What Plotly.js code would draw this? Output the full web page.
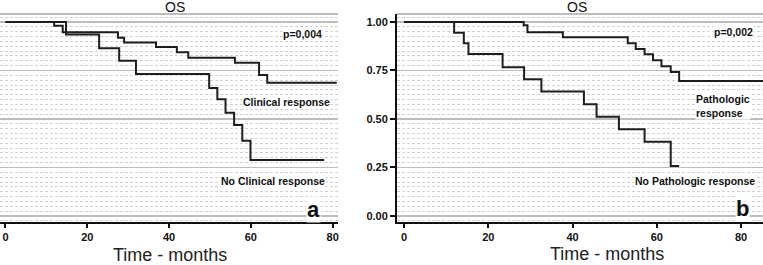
<!DOCTYPE html>
<html>
<head>
<meta charset="utf-8">
<script src="https://cdn.plot.ly/plotly-3.0.1.min.js"></script>
<style>html,body{margin:0;padding:0;background:#fff;}#chart{width:763px;height:265px;}</style>
</head>
<body>
<div id="chart"></div>
<script>
// Panel a: clinical response
const monthsAClin = [0, 11.9, 14, 27.5, 29, 36.8, 41.9, 44.7, 56.1, 62, 64, 81];
const survAClin = [1, 0.981, 0.947, 0.919, 0.894, 0.871, 0.844, 0.816, 0.79, 0.727, 0.687, 0.687];
const monthsANoClin = [0, 14.8, 22.9, 27.8, 31.9, 49.8, 51.8, 53.8, 55.9, 57.9, 59.9, 77.9];
const survANoClin = [1, 0.935, 0.864, 0.80, 0.732, 0.659, 0.602, 0.532, 0.469, 0.388, 0.289, 0.289];
// Panel b: pathologic response
const monthsBPath = [0, 28.4, 29.3, 37.7, 53.1, 55, 57.1, 59.1, 61.1, 63.3, 65.3, 86];
const survBPath = [1, 0.983, 0.947, 0.921, 0.89, 0.861, 0.833, 0.803, 0.772, 0.742, 0.696, 0.696];
const monthsBNoPath = [0, 11.9, 14.2, 15.3, 23.4, 28.5, 32.6, 42.7, 45.7, 51, 57.1, 63.3, 65.3];
const survBNoPath = [1, 0.945, 0.89, 0.835, 0.767, 0.705, 0.641, 0.576, 0.512, 0.447, 0.383, 0.258, 0.258];

const xTicks = [0, 20, 40, 60, 80];
const yTicks = [0, 0.25, 0.5, 0.75, 1.0];
const yTickText = ['0.00', '0.25', '0.50', '0.75', '1.00'];

const lineStyle = {color: '#1e1e1e', width: 2, shape: 'hv'};
const traces = [
  {x: monthsAClin, y: survAClin, xaxis: 'x', yaxis: 'y', mode: 'lines', line: lineStyle, hoverinfo: 'skip'},
  {x: monthsANoClin, y: survANoClin, xaxis: 'x', yaxis: 'y', mode: 'lines', line: lineStyle, hoverinfo: 'skip'},
  {x: monthsBPath, y: survBPath, xaxis: 'x2', yaxis: 'y2', mode: 'lines', line: lineStyle, hoverinfo: 'skip'},
  {x: monthsBNoPath, y: survBNoPath, xaxis: 'x2', yaxis: 'y2', mode: 'lines', line: lineStyle, hoverinfo: 'skip'}
];

const boldFam = 'Liberation Sans, Arial';
const tickFont = {family: boldFam, size: 11, color: '#111', weight: 'bold'};
const xBase = {
  tickvals: xTicks, ticks: 'outside', ticklen: 4, tickwidth: 2, tickcolor: '#111',
  showline: true, linecolor: '#111', linewidth: 2, showgrid: false, zeroline: false,
  tickfont: tickFont, fixedrange: true
};
const yBase = {
  range: [-0.031, 1.041], tickvals: yTicks, ticktext: yTickText,
  showgrid: true, gridcolor: '#bdbdbd', gridwidth: 1.5, zeroline: false,
  minor: {dtick: 0.025, tick0: 0, showgrid: true, gridcolor: '#d2d2d2', gridwidth: 1, griddash: '3px,2px'},
  tickfont: tickFont, fixedrange: true
};

const W = 763;
const annFont = {family: boldFam, size: 10.5, color: '#111'};
function ann(text, x, y, size, extra) {
  return Object.assign({
    text: text, xref: 'paper', yref: 'paper', x: x / W, y: (222 - y) / 208,
    xanchor: 'center', yanchor: 'middle', showarrow: false,
    font: Object.assign({}, annFont, {size: size}), bgcolor: '#ffffff', borderpad: 0
  }, extra || {});
}
const plainFont = 'Liberation Sans, Arial';
const annotations = [
  ann('<b>p=0,004</b>', 302, 34, 10.5),
  ann('<b>Clinical response</b>', 286, 102, 10.5),
  ann('<b>No Clinical response</b>', 273, 181, 10.5),
  ann('<b>a</b>', 313, 209, 22, {font: {family: plainFont, size: 22, color: '#111'}}),
  ann('<b>p=0,002</b>', 733, 32, 10.5),
  ann('<b>Pathologic<br>response</b>', 695, 106, 10.5, {xanchor: 'left', align: 'left'}),
  ann('<b>No Pathologic response</b>', 695, 181, 10.5),
  ann('<b>b</b>', 742, 208, 22, {font: {family: plainFont, size: 22, color: '#111'}}),
  ann('OS', 175, 7, 14, {font: {family: plainFont, size: 14, color: '#111'}, bgcolor: 'rgba(0,0,0,0)'}),
  ann('OS', 577, 7, 14, {font: {family: plainFont, size: 14, color: '#111'}, bgcolor: 'rgba(0,0,0,0)'}),
  ann('Time - months', 170, 255, 18, {font: {family: plainFont, size: 18, color: '#222'}, bgcolor: 'rgba(0,0,0,0)'}),
  ann('Time - months', 607, 254, 18, {font: {family: plainFont, size: 18, color: '#222'}, bgcolor: 'rgba(0,0,0,0)'})
];

const shapes = [
  {type: 'line', xref: 'x domain', yref: 'paper', x0: 0, x1: 1, y0: 1, y1: 1, line: {color: '#bdbdbd', width: 2}},
  {type: 'line', xref: 'x2 domain', yref: 'paper', x0: 0, x1: 1, y0: 1, y1: 1, line: {color: '#bdbdbd', width: 2}}
];

const layout = {
  width: 763, height: 265,
  margin: {l: 0, r: 0, t: 14, b: 43, pad: 0},
  paper_bgcolor: '#ffffff', plot_bgcolor: '#ffffff',
  showlegend: false,
  xaxis: Object.assign({}, xBase, {domain: [0, 338 / W], range: [-1.34, 81.3]}),
  yaxis: Object.assign({}, yBase, {anchor: 'x', showticklabels: false, ticks: '', showline: false}),
  xaxis2: Object.assign({}, xBase, {domain: [397 / W, 1], range: [-1.66, 85.2], anchor: 'y2'}),
  yaxis2: Object.assign({}, yBase, {anchor: 'x2', showticklabels: true, ticks: 'outside', ticklen: 5, tickwidth: 2, tickcolor: '#111', showline: true, linecolor: '#111', linewidth: 2}),
  annotations: annotations,
  shapes: shapes
};

Plotly.newPlot('chart', traces, layout, {staticPlot: true, displayModeBar: false});
</script>
</body>
</html>
